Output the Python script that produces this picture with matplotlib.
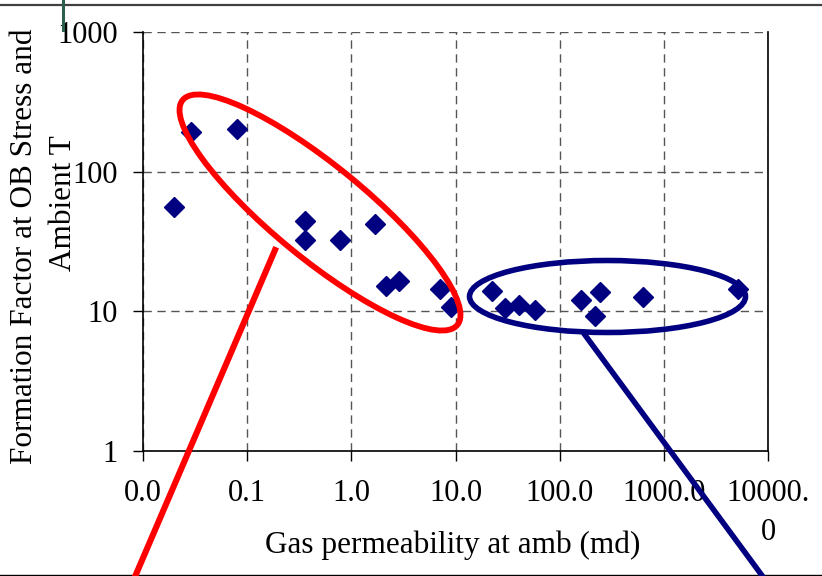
import matplotlib.pyplot as plt
from matplotlib.patches import Ellipse
from matplotlib.lines import Line2D
from matplotlib.transforms import Affine2D

# gas permeability at ambient (md) and formation factor at OB stress
perm = [0.020, 0.029, 0.079, 0.36, 0.36, 0.78, 1.70, 2.15, 2.89, 7.1, 9.0,
        22.2, 29.9, 40.7, 57.9, 160, 244, 218, 635, 5190]
ff = [55.6, 191, 201, 44.6, 32.4, 32.4, 42.2, 15.3, 16.5, 14.5, 10.7,
      14.0, 10.5, 11.1, 10.2, 12.1, 13.8, 9.3, 12.7, 14.4]

xticks = [0.01, 0.1, 1, 10, 100, 1000, 10000]
xtick_labels = ['0.0', '0.1', '1.0', '10.0', '100.0', '1000.0', '10000.\n0']
yticks = [1, 10, 100, 1000]
ytick_labels = ['1', '10', '100', '1000']

plt.rcParams['font.family'] = 'Liberation Serif'

W, H = 822, 576
fig = plt.figure(figsize=(W / 100, H / 100), dpi=100)
ax = fig.add_axes([143 / W, 1 - 451 / H, 625 / W, 419 / H])

navy = '#000080'
ax.plot(perm, ff, 'D', color=navy, mec=navy, ms=10, zorder=3)

ax.set_xscale('log')
ax.set_yscale('log')
ax.set_xlim(0.01, 10000)
ax.set_ylim(1, 1000)
ax.minorticks_off()
ax.set_xticks(xticks)
ax.set_xticklabels(xtick_labels)
ax.set_yticks(yticks)
ax.set_yticklabels(ytick_labels)
for lbl in ax.get_xticklabels():
    lbl.set_linespacing(1.45)

ax.tick_params(direction='out', length=7, width=1, labelsize=22, colors='black')
ax.tick_params(axis='x', pad=13)
ax.tick_params(axis='y', pad=11)
ax.grid(True, color='#555555', lw=1, ls=(0, (6, 4)))
ax.spines['top'].set_visible(False)
for s in ['left', 'right', 'bottom']:
    ax.spines[s].set_linewidth(1.2)

# axis titles placed in pixel units from the top-left corner
pix = Affine2D().scale(1, -1).translate(0, H).scale(1 / 100) + fig.dpi_scale_trans
fig.text(453, 553, 'Gas permeability at amb (md)', fontsize=22.5,
         ha='center', va='baseline', transform=pix)
fig.text(32, 246, 'Formation Factor at OB Stress and', fontsize=22.5, rotation=90,
         rotation_mode='anchor', ha='center', va='baseline', transform=pix)
fig.text(71, 203, 'Ambient T', fontsize=22.5, rotation=90,
         rotation_mode='anchor', ha='center', va='baseline', transform=pix)

# highlighted groups with pointer lines
fig.add_artist(Ellipse((320, 212.5), 355, 93, angle=39.3, fill=False,
                       ec='red', lw=4.2, transform=pix, zorder=5))
fig.add_artist(Line2D([275, 125], [250, 600], color='red', lw=4.4,
                      transform=pix, zorder=5))
fig.add_artist(Ellipse((607.5, 296.5), 276, 72, angle=0, fill=False,
                       ec=navy, lw=4, transform=pix, zorder=5))
fig.add_artist(Line2D([585, 780], [335, 600], color=navy, lw=4,
                      transform=pix, zorder=5))

# page rules
fig.add_artist(Line2D([0, W], [4.5, 4.5], color='#404040', lw=1.6, transform=pix))
fig.add_artist(Line2D([0, W], [574.5, 574.5], color='black', lw=1, transform=pix))
fig.add_artist(Line2D([62.5, 62.5], [0, 30], color='#2e6050', lw=2.2, transform=pix))

fig.savefig('out.png', dpi=100)
